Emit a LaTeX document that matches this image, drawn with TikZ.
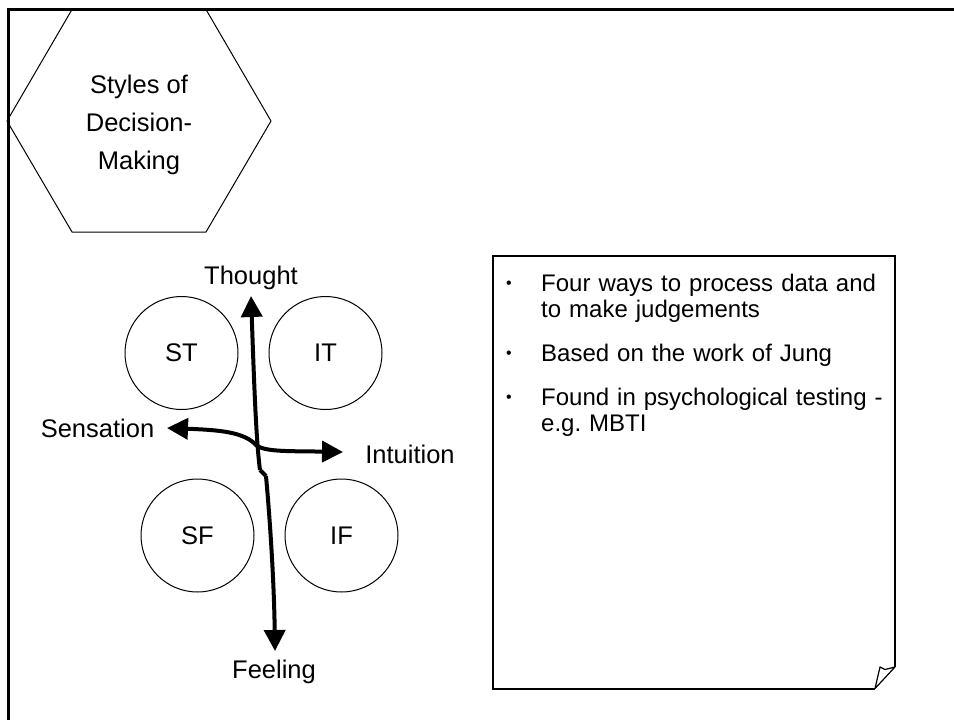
\documentclass[tikz,border=0pt]{standalone}
\usepackage{fontspec}
\setmainfont{Liberation Sans}
\usetikzlibrary{arrows.meta}
\begin{document}
\frenchspacing
\begin{tikzpicture}[x=1pt,y=-1pt,
  lbl/.style={font=\fontsize{25.5}{38}\selectfont, inner sep=0pt},
  circ/.style={draw, line width=1pt, circle, minimum size=113pt, inner sep=0pt, font=\fontsize{25.5}{30}\selectfont},
  axis/.style={line width=4pt, line join=round, -{Triangle[length=21pt,width=21pt]}},
  btxt/.style={font=\fontsize{24}{26}\selectfont, anchor=base west, inner sep=0pt, text width=360pt, align=left},
  bdot/.style={font=\fontsize{16}{18}\selectfont, anchor=base, inner sep=0pt}]
\useasboundingbox (0,0) rectangle (954,720);
% frame
\draw[line width=3pt] (8,722) -- (8,9.5) -- (956,9.5);
% hexagon
\coordinate (h1) at (7,121);
\coordinate (h2) at (72,9.5);
\coordinate (h3) at (206,9.5);
\coordinate (h4) at (271,121);
\coordinate (h5) at (206,232);
\coordinate (h6) at (72,232);
\draw[line width=1pt, line join=round] (h1) -- (h2) -- (h3) -- (h4) -- (h5) -- (h6) -- cycle;
\node[lbl, align=center] (title) at (139,125) {Styles of\\Decision-\\Making};
% circles
\node[circ] (st) at (181.5,353) {ST};
\node[circ] (it) at (325.5,353) {IT};
\node[circ] (sf) at (197.5,535.5) {SF};
\node[circ] (if) at (341.5,535.5) {IF};
% labels
\node[lbl] (thought) at (251,278) {Thought};
\node[lbl] (sensation) at (97.5,428) {Sensation};
\node[lbl] (intuition) at (410,454) {Intuition};
\node[lbl] (feeling) at (274,672) {Feeling};
% arrow tips
\coordinate (tT) at (251,296);
\coordinate (tF) at (275,651);
\coordinate (tS) at (167,428);
\coordinate (tI) at (343,452);
\coordinate (kink1) at (260,470);
\coordinate (kink2) at (266,476);
% vertical arrows
\draw[axis] (kink1) .. controls (256,440) and (254,380) .. (tT);
\draw[line width=4pt, line join=round] (kink1) -- (kink2);
\draw[axis] (kink2) .. controls (270,520) and (274,580) .. (tF);
% horizontal arrows
\coordinate (cross) at (257,446);
\draw[axis] (cross) .. controls (245,432) and (220,430) .. (tS);
\draw[axis] (cross) .. controls (268,452) and (290,451) .. (tI);
% text box with folded corner
\coordinate (b1) at (493,256);
\coordinate (b2) at (895,256);
\coordinate (b3) at (895,667);
\coordinate (b4) at (875,688.5);
\coordinate (b5) at (493,688.5);
\draw[line width=2pt, line join=miter] (b3) -- (b2) -- (b1) -- (b5) -- (b4);
\draw[line width=1.2pt, line join=round] (b4) -- (b3) -- (885,669.5) -- (880,667) -- cycle;
% bullets
\node[bdot] (d1) at (509,288) {•};
\node[btxt] (t1) at (541,291) {Four ways to process data and\\to make judgements};
\node[bdot] (d2) at (509,358) {•};
\node[btxt] (t2) at (541,361) {Based on the work of Jung};
\node[bdot] (d3) at (509,402) {•};
\node[btxt] (t3) at (541,405) {Found in psychological testing -\\e.g. MBTI};
\end{tikzpicture}
\end{document}
